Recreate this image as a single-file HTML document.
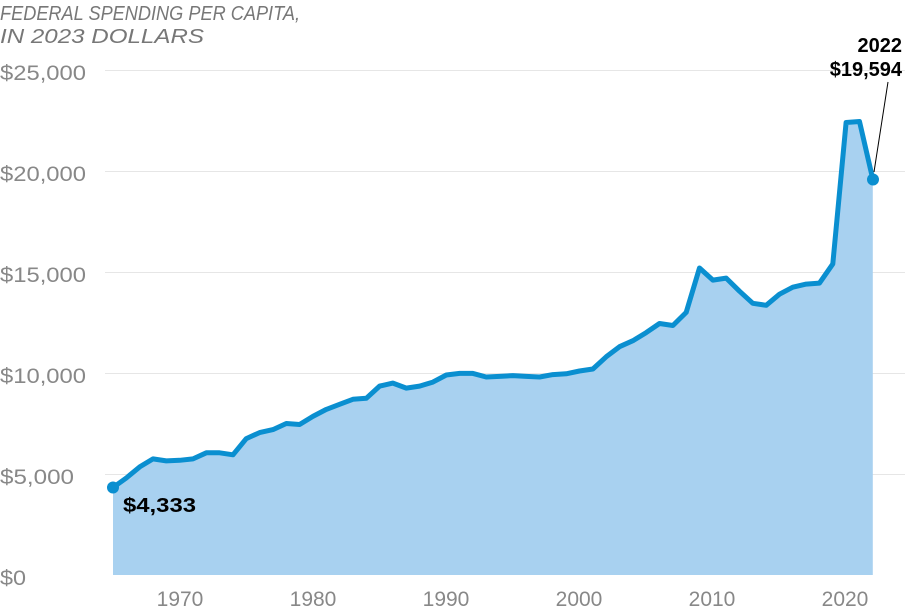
<!DOCTYPE html>
<html><head><meta charset="utf-8"><style>
body{margin:0;background:#fff;}
svg text{font-family:"Liberation Sans",sans-serif;}
</style></head><body>
<svg id="s" width="910" height="608" xmlns="http://www.w3.org/2000/svg">
<text x="0" y="20" font-size="20" font-style="italic" fill="#777" textLength="300" lengthAdjust="spacingAndGlyphs">FEDERAL SPENDING PER CAPITA,</text>
<text x="0" y="43" font-size="20" font-style="italic" fill="#777" textLength="204" lengthAdjust="spacingAndGlyphs">IN 2023 DOLLARS</text>
<g stroke="#e6e6e6" stroke-width="1">
<line x1="105" x2="905" y1="70.5" y2="70.5"/>
<line x1="105" x2="905" y1="171.5" y2="171.5"/>
<line x1="105" x2="905" y1="272.5" y2="272.5"/>
<line x1="105" x2="905" y1="373.5" y2="373.5"/>
<line x1="105" x2="905" y1="474.5" y2="474.5"/>
</g>
<g font-size="21" fill="#888">
<text x="0" y="80" textLength="86" lengthAdjust="spacingAndGlyphs">$25,000</text>
<text x="0" y="181" textLength="86" lengthAdjust="spacingAndGlyphs">$20,000</text>
<text x="0" y="282" textLength="86" lengthAdjust="spacingAndGlyphs">$15,000</text>
<text x="0" y="383" textLength="86" lengthAdjust="spacingAndGlyphs">$10,000</text>
<text x="0" y="484" textLength="74" lengthAdjust="spacingAndGlyphs">$5,000</text>
<text x="0" y="585" textLength="26" lengthAdjust="spacingAndGlyphs">$0</text>
<g text-anchor="middle">
<text x="180" y="606">1970</text>
<text x="313" y="606">1980</text>
<text x="446" y="606">1990</text>
<text x="579" y="606">2000</text>
<text x="712" y="606">2010</text>
<text x="845" y="606">2020</text>
</g></g>
<path id="area" fill="#a8d1f0"/>
<path id="line" fill="none" stroke="#0a8fd0" stroke-width="5" stroke-linejoin="round"/>
<circle cx="113" cy="487.5" r="6" fill="#0a8fd0"/>
<circle cx="873" cy="179.5" r="6" fill="#0a8fd0"/>
<line x1="874" y1="172" x2="888" y2="82" stroke="#000" stroke-width="1"/>
<g font-size="20" font-weight="bold" fill="#000">
<text x="123" y="512" textLength="73" lengthAdjust="spacingAndGlyphs">$4,333</text>
<text x="902" y="52" text-anchor="end">2022</text>
<text x="902" y="76" text-anchor="end">$19,594</text>
</g>
</svg>
<script>
var v=[4333,4800,5350,5750,5650,5680,5750,6050,6050,5950,6750,7050,7200,7500,7450,7850,8200,8450,8700,8750,9350,9500,9250,9350,9550,9900,9980,9980,9800,9830,9870,9830,9800,9920,9960,10100,10200,10800,11300,11600,12000,12450,12350,13000,15200,14600,14700,14050,13450,13350,13900,14250,14400,14450,15400,22400,22450,19594];
var p=v.map(function(d,i){return (113+i*13.33).toFixed(1)+","+(575-d*0.0202).toFixed(1);});
document.getElementById("line").setAttribute("d","M"+p.join("L"));
document.getElementById("area").setAttribute("d","M113,575L"+p.join("L")+"L"+(113+57*13.33).toFixed(1)+",575Z");
</script>
</body></html>
